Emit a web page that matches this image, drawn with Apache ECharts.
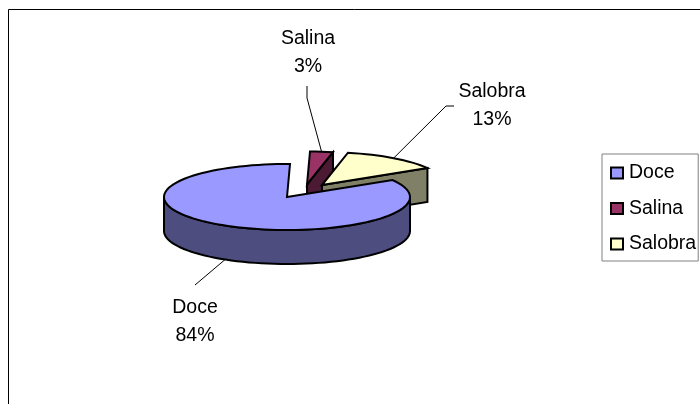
<!DOCTYPE html>
<html>
<head>
<meta charset="utf-8">
<style>html,body{margin:0;padding:0;background:#fff}#c{width:700px;height:404px}</style>
<script src="https://cdn.jsdelivr.net/npm/echarts@6/dist/echarts.min.js"></script>
</head>
<body>
<div id="c"></div>
<script>
var categories = ['Doce', 'Salina', 'Salobra'];
var values = [84, 3, 13];
var topColors = ['#9999FF', '#993366', '#FFFFCC'];
var sideColors = ['#4D4D80', '#4D1A33', '#808066'];

var FONT = '19.5px "Liberation Sans", Arial, sans-serif';
var CX = 287, CY = 197, RX = 123, RY = 33, DEPTH = 34, START = 59;
var explode = [[0, 0], [20, -12.5], [35, -12]];
var leaders = [
  { elbow: [195, 285], end: [195, 285], text: [195, 308] },
  { elbow: [307, 98], end: [307, 86], text: [308, 38.5] },
  { elbow: [446, 106], end: [454, 106], text: [492, 92] }
];
var total = values.reduce(function (a, b) { return a + b; }, 0);

function pt(a, ox, oy, dz) {
  var r = a * Math.PI / 180;
  return [CX + ox + RX * Math.sin(r), CY + oy - RY * Math.cos(r) + (dz || 0)];
}
function arc(a0, a1, ox, oy, dz) {
  var out = [], n = Math.max(2, Math.ceil(Math.abs(a1 - a0) / 3));
  for (var i = 0; i <= n; i++) out.push(pt(a0 + (a1 - a0) * i / n, ox, oy, dz));
  return out;
}
var stroke = { stroke: '#000', lineWidth: 2, lineJoin: 'miter' };

function makeRender(idx) {
  return function () {
    var before = 0;
    for (var i = 0; i < idx; i++) before += values[i];
    var a0 = START + before / total * 360;
    var a1 = a0 + values[idx] / total * 360;
    var ox = explode[idx][0], oy = explode[idx][1];
    var apex = [CX + ox, CY + oy];
    var kids = [];
    var side = sideColors[idx], top = topColors[idx];

    // cut face at the end of the slice
    var n0 = a0 % 360, n1 = a1 % 360;
    if (n0 < n1 && n1 < 90) {
      var e = pt(a1, ox, oy);
      kids.push({ type: 'polygon', shape: { points: [apex, e, [e[0], e[1] + DEPTH], [apex[0], apex[1] + DEPTH]] },
        style: Object.assign({ fill: side }, stroke) });
    }
    // outer wall, front half only
    var w0 = Math.max(a0, 90), w1 = Math.min(a1, 270);
    if (w1 > w0) {
      var pts = arc(w0, w1, ox, oy, 0).concat(arc(w1, w0, ox, oy, DEPTH));
      kids.push({ type: 'polygon', shape: { points: pts }, style: Object.assign({ fill: side }, stroke) });
    }
    // top face
    kids.push({ type: 'polygon', shape: { points: [apex].concat(arc(a0, a1, ox, oy, 0)) },
      style: Object.assign({ fill: top }, stroke) });

    // leader line and label
    var mid = (a0 + a1) / 2;
    var anchor = pt(mid, ox, oy, (mid % 360) > 90 && (mid % 360) < 270 ? DEPTH : 0);
    var L = leaders[idx];
    kids.push({ type: 'polyline', shape: { points: [anchor, L.elbow, L.end] },
      style: { fill: 'none', stroke: '#000', lineWidth: 1 } });
    var pct = Math.round(values[idx] / total * 100) + '%';
    kids.push({ type: 'text', style: { text: categories[idx], x: L.text[0], y: L.text[1], font: FONT, fill: '#000', align: 'center', verticalAlign: 'middle' } });
    kids.push({ type: 'text', style: { text: pct, x: L.text[0], y: L.text[1] + 28, font: FONT, fill: '#000', align: 'center', verticalAlign: 'middle' } });
    return { type: 'group', children: kids };
  };
}

var chart = echarts.init(document.getElementById('c'), null, { renderer: 'canvas' });
chart.setOption({
  animation: false,
  backgroundColor: '#fff',
  graphic: [{ type: 'rect', z: 0, silent: true, shape: { x: 8.5, y: 9.5, width: 800, height: 500 },
    style: { fill: 'none', stroke: '#000', lineWidth: 1 } }],
  legend: {
    left: 602, top: 154, orient: 'vertical', icon: 'rect',
    padding: [9, 2, 7, 8], itemGap: 15.5, itemWidth: 12, itemHeight: 11,
    backgroundColor: '#fff', borderColor: '#808080', borderWidth: 1,
    textStyle: { fontFamily: '"Liberation Sans", Arial, sans-serif', fontSize: 19.5, color: '#000', padding: [0, 0, 0, 1] },
    selectedMode: false,
    data: categories,
    itemStyle: { borderColor: '#000', borderWidth: 2 }
  },
  series: categories.map(function (name, i) {
    return {
      type: 'custom', name: name, coordinateSystem: 'none', silent: true,
      z: i === 0 ? 4 : 2 + i / 10,
      itemStyle: { color: topColors[i] },
      data: [values[i]],
      renderItem: makeRender(i)
    };
  })
});
</script>
</body>
</html>
